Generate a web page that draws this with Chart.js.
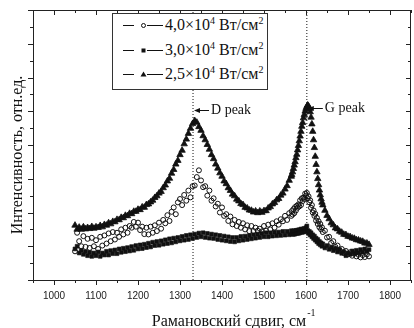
<!DOCTYPE html>
<html><head><meta charset="utf-8">
<script src="https://cdn.jsdelivr.net/npm/chart.js@4"></script>
<style>
html,body{margin:0;padding:0;overflow:hidden;background:#fff;width:414px;height:328px}
#wrap{position:relative;width:416px;height:328px}
#legend{position:absolute;left:112px;top:13px;width:156px;height:77px;border:1px solid #333;background:#fff;font-family:"Liberation Serif","Times New Roman","DejaVu Serif",serif;font-size:16px;color:#111;box-sizing:border-box}
.row{position:absolute;left:0;height:20px;width:154px}
.row svg{position:absolute;left:9px;top:0}
.row span{position:absolute;left:52px;top:0;line-height:20px;white-space:nowrap}
.row sup{font-size:10px;vertical-align:6px;line-height:0}
</style>
</head><body>
<div id="wrap">
<canvas id="c" width="416" height="328"></canvas>
<div id="legend"></div>
</div>
<script>
const shift = [
1050,1055,1060,1065,1070,1075,1080,1085,1090,1095,
1100,1105,1110,1115,1120,1125,1130,1135,1140,1145,
1150,1155,1160,1165,1170,1175,1180,1185,1190,1195,
1200,1205,1210,1215,1220,1225,1230,1235,1240,1245,
1250,1255,1260,1265,1270,1275,1280,1285,1290,1295,
1300,1305,1310,1315,1320,1325,1330,1335,1340,1345,
1350,1355,1360,1365,1370,1375,1380,1385,1390,1395,
1400,1405,1410,1415,1420,1425,1430,1435,1440,1445,
1450,1455,1460,1465,1470,1475,1480,1485,1490,1495,
1500,1505,1510,1515,1520,1525,1530,1535,1540,1545,
1550,1555,1560,1565,
1566,1568,1570,1572,1574,1576,1578,1580,1582,1584,
1586,1588,1590,1592,1594,1596,1598,1600,1602,1604,
1606,1608,1610,1612,1614,1616,1618,1620,1622,1624,
1626,1628,1630,1632,1634,1636,1638,1640,
1645,1650,1655,1660,1665,1670,1675,1680,1685,1690,
1695,1700,1705,1710,1715,1720,1725,1730,1735,1740,
1745,1750];

// 4,0×10^4 W/cm^2 (open circles)
const power40 = [
0.85,1.40,1.15,1.00,1.30,0.98,1.22,0.95,1.25,1.00,
1.18,0.92,1.28,1.02,1.32,1.08,1.38,1.15,1.42,1.20,
1.40,1.28,1.50,1.35,1.55,1.40,1.60,1.55,1.72,1.58,
1.70,1.48,1.58,1.36,1.55,1.35,1.58,1.40,1.62,1.45,
1.70,1.52,1.78,1.68,1.92,1.75,2.02,2.15,1.95,2.30,
2.40,2.22,2.52,2.35,2.65,2.45,2.78,2.80,3.05,3.25,
2.95,2.75,2.78,2.50,2.65,2.35,2.42,2.18,2.26,2.00,
2.15,1.90,1.95,1.75,1.88,1.65,1.78,1.60,1.72,1.55,
1.68,1.50,1.62,1.45,1.60,1.45,1.55,1.46,1.52,1.44,
1.60,1.46,1.64,1.50,1.68,1.55,1.74,1.64,1.80,1.74,
1.90,1.78,1.98,1.90,
2.04,1.94,2.10,1.98,2.16,2.06,2.20,2.14,2.24,2.18,
2.36,2.22,2.42,2.34,2.44,2.40,2.56,2.50,2.58,2.42,
2.48,2.30,2.36,2.14,2.22,2.00,2.06,1.90,1.96,1.76,
1.84,1.66,1.74,1.56,1.66,1.50,1.56,1.42,
1.46,1.26,1.28,1.10,1.15,0.98,1.02,0.88,0.92,0.80,
0.86,0.76,0.82,0.72,0.78,0.70,0.75,0.67,0.74,0.68,
0.76,0.70];

// 3,0×10^4 W/cm^2 (filled squares)
const power30 = [
0.92,1.00,0.80,0.88,0.76,0.84,0.72,0.82,0.70,0.80,
0.72,0.83,0.70,0.80,0.74,0.85,0.74,0.87,0.78,0.89,
0.78,0.92,0.82,0.94,0.84,0.96,0.86,0.99,0.88,1.02,
0.92,1.04,0.93,1.06,0.96,1.09,0.98,1.12,1.02,1.14,
1.03,1.16,1.06,1.19,1.08,1.22,1.10,1.24,1.13,1.26,
1.16,1.29,1.18,1.32,1.20,1.34,1.23,1.36,1.26,1.39,
1.28,1.40,1.26,1.38,1.24,1.36,1.23,1.34,1.20,1.32,
1.18,1.30,1.16,1.28,1.14,1.26,1.13,1.26,1.16,1.29,
1.18,1.30,1.20,1.32,1.22,1.34,1.24,1.36,1.26,1.38,
1.28,1.40,1.28,1.40,1.30,1.42,1.31,1.42,1.32,1.44,
1.33,1.44,1.34,1.46,
1.36,1.45,1.35,1.46,1.36,1.47,1.38,1.48,1.38,1.49,
1.40,1.51,1.41,1.51,1.42,1.53,1.43,1.55,1.60,1.47,
1.38,1.44,1.33,1.40,1.28,1.34,1.23,1.30,1.18,1.24,
1.13,1.20,1.08,1.14,1.04,1.10,1.00,1.07,
0.95,1.02,0.91,0.97,0.87,0.94,0.83,0.90,0.79,0.84,
0.72,0.80,0.76,0.86,0.78,0.88,0.80,0.90,0.82,0.92,
0.84,0.90];

// 2,5×10^4 W/cm^2 (filled triangles)
const power25 = [
1.62,1.50,1.56,1.50,1.57,1.51,1.55,1.52,1.58,1.53,
1.57,1.55,1.61,1.57,1.64,1.62,1.69,1.66,1.73,1.72,
1.79,1.78,1.85,1.84,1.91,1.90,1.97,1.96,2.03,2.03,
2.09,2.08,2.16,2.15,2.23,2.25,2.31,2.36,2.44,2.49,
2.57,2.62,2.73,2.81,2.93,3.01,3.16,3.27,3.43,3.54,
3.71,3.84,4.03,4.17,4.34,4.49,4.63,4.72,4.67,4.54,
4.43,4.27,4.15,4.01,3.87,3.71,3.59,3.43,3.31,3.17,
3.07,2.93,2.85,2.73,2.65,2.54,2.49,2.39,2.34,2.26,
2.23,2.15,2.13,2.07,2.06,2.01,2.04,1.99,2.04,2.00,
2.05,2.05,2.13,2.17,2.25,2.29,2.37,2.41,2.51,2.57,
2.69,2.79,2.95,3.07,
3.12,3.20,3.30,3.40,3.50,3.62,3.72,3.85,3.98,4.12,
4.26,4.40,4.55,4.66,4.80,4.90,5.00,5.08,5.14,5.18,
5.15,5.08,4.98,4.82,4.62,4.40,4.15,3.92,3.66,3.42,
3.20,3.00,2.82,2.66,2.52,2.40,2.30,2.22,
2.06,1.91,1.81,1.69,1.63,1.54,1.51,1.44,1.41,1.35,
1.34,1.29,1.28,1.24,1.23,1.19,1.18,1.15,1.14,1.09,
1.09,1.05];

const seriesNames = ["4,0×10<sup>4</sup> Вт/см<sup>2</sup>","3,0×10<sup>4</sup> Вт/см<sup>2</sup>","2,5×10<sup>4</sup> Вт/см<sup>2</sup>"];
const peakShifts = [1331, 1602];
const peakNames = ["D peak", "G peak"];
const xTickLabels = [1000,1100,1200,1300,1400,1500,1600,1700,1800];
const xTitle = "Рамановский сдвиг, см";
const xTitleSup = "-1";
const yTitle = "Интенсивность, отн.ед.";

const INK = '#111';
const SERIF = '"Liberation Serif", "Times New Roman", "DejaVu Serif", serif';
const pts = arr => shift.map((x,i)=>({x:x, y:arr[i]}));
const vline = x => [{x:x,y:0},{x:x,y:8}];

const frame = {
  id:'frame',
  afterDraw(chart){
    const ctx = chart.ctx, a = chart.chartArea, xs = chart.scales.x, ys = chart.scales.y;
    ctx.save();
    ctx.strokeStyle = '#222'; ctx.lineWidth = 1;
    ctx.beginPath();
    ctx.moveTo(a.left, a.top+0.5); ctx.lineTo(a.right, a.top+0.5);
    ctx.moveTo(a.right-0.5, a.top); ctx.lineTo(a.right-0.5, a.bottom);
    for (let v = 950; v <= 1850; v += 50) {
      const px = Math.round(xs.getPixelForValue(v)) + 0.5;
      const len = (v % 100 === 0) ? 5 : 3;
      ctx.moveTo(px, a.bottom); ctx.lineTo(px, a.bottom + len);
      ctx.moveTo(px, a.top); ctx.lineTo(px, a.top + len);
    }
    for (let v = 0; v <= 8; v += 0.5) {
      const py = Math.round(ys.getPixelForValue(v)) + 0.5;
      const len = (v % 1 === 0) ? 5 : 3;
      ctx.moveTo(a.left, py); ctx.lineTo(a.left - len, py);
      ctx.moveTo(a.right, py); ctx.lineTo(a.right - len, py);
    }
    ctx.stroke();
    const labY = [110, 108];
    ctx.fillStyle = INK; ctx.strokeStyle = INK;
    ctx.font = '14px ' + SERIF; ctx.textBaseline = 'middle'; ctx.textAlign = 'left';
    peakShifts.forEach((s,i)=>{
      const px = xs.getPixelForValue(s), py = labY[i];
      ctx.beginPath(); ctx.moveTo(px+5, py+0.5); ctx.lineTo(px+16, py+0.5); ctx.stroke();
      ctx.beginPath(); ctx.moveTo(px+1, py+0.5); ctx.lineTo(px+7, py-2); ctx.lineTo(px+7, py+3); ctx.closePath(); ctx.fill();
      ctx.fillText(peakNames[i], px+18, py);
    });
    ctx.font = '16px ' + SERIF; ctx.textBaseline = 'alphabetic'; ctx.textAlign = 'left';
    const w = ctx.measureText(xTitle).width;
    const x0 = 229 - w/2;
    ctx.fillText(xTitle, x0, 326);
    ctx.font = '10px ' + SERIF;
    ctx.fillText(xTitleSup, x0 + w + 1, 316);
    ctx.save();
    ctx.translate(22, 155); ctx.rotate(-Math.PI/2);
    ctx.font = '16px ' + SERIF; ctx.textAlign = 'center';
    ctx.fillText(yTitle, 0, 0);
    ctx.restore();
    ctx.restore();
  }
};

function build(){
new Chart(document.getElementById('c'), {
  type:'scatter',
  data:{datasets:[
    {label:'D', type:'line', data:vline(peakShifts[0]), borderColor:INK, borderWidth:1, borderDash:[1,2], pointRadius:0, showLine:true},
    {label:'G', type:'line', data:vline(peakShifts[1]), borderColor:INK, borderWidth:1, borderDash:[1,2], pointRadius:0, showLine:true},
    {label:'4.0', data:pts(power40), pointStyle:'circle', pointRadius:2.5, borderColor:INK, backgroundColor:'rgba(255,255,255,0)', borderWidth:1},
    {label:'3.0', data:pts(power30), pointStyle:'rect', pointRadius:2.7, borderColor:INK, backgroundColor:INK, borderWidth:0.6},
    {label:'2.5', data:pts(power25), pointStyle:'triangle', pointRadius:3.7, borderColor:INK, backgroundColor:INK, borderWidth:0.8}
  ]},
  options:{
    responsive:false, animation:false, devicePixelRatio:1,
    layout:{padding:{left:33, top:10, right:1, bottom:16}},
    plugins:{legend:{display:false}, tooltip:{enabled:false}},
    scales:{
      x:{type:'linear', min:950, max:1850,
        afterBuildTicks: s => { s.ticks = xTickLabels.map(v=>({value:v})); },
        ticks:{font:{family:'"Liberation Sans", Arial, sans-serif', size:10}, color:'#222', padding:10, callback:v=>String(v), maxRotation:0},
        grid:{display:false, drawTicks:false}, border:{display:true, color:'#222', width:1}},
      y:{type:'linear', min:0, max:8,
        ticks:{display:false}, grid:{display:false, drawTicks:false}, border:{display:true, color:'#222', width:1}}
    }
  },
  plugins:[frame]
});
}

const lg = document.getElementById('legend');
const marks = [
  '<circle cx="21.5" cy="10.5" r="2" fill="#fff" stroke="#111" stroke-width="1"/>',
  '<rect x="19.5" y="8.5" width="4" height="4" fill="#111"/>',
  '<polygon points="21.5,7.5 24.5,12.5 18.5,12.5" fill="#111"/>'
];
const rowTop = [1, 26, 50];
seriesNames.forEach((n,i)=>{
  const r = document.createElement('div');
  r.className = 'row'; r.style.top = rowTop[i] + 'px';
  r.innerHTML = '<svg width="42" height="20"><line x1="1" y1="10.5" x2="12" y2="10.5" stroke="#111"/>' +
    '<line x1="25" y1="10.5" x2="41" y2="10.5" stroke="#111"/>' + marks[i] + '</svg><span>' + n + '</span>';
  lg.appendChild(r);
});

if (document.fonts && document.fonts.load) {
  Promise.all([document.fonts.load('14px "Liberation Serif"'), document.fonts.load('10px "Liberation Sans"')])
    .then(build, build);
} else { build(); }
</script>
</body></html>
